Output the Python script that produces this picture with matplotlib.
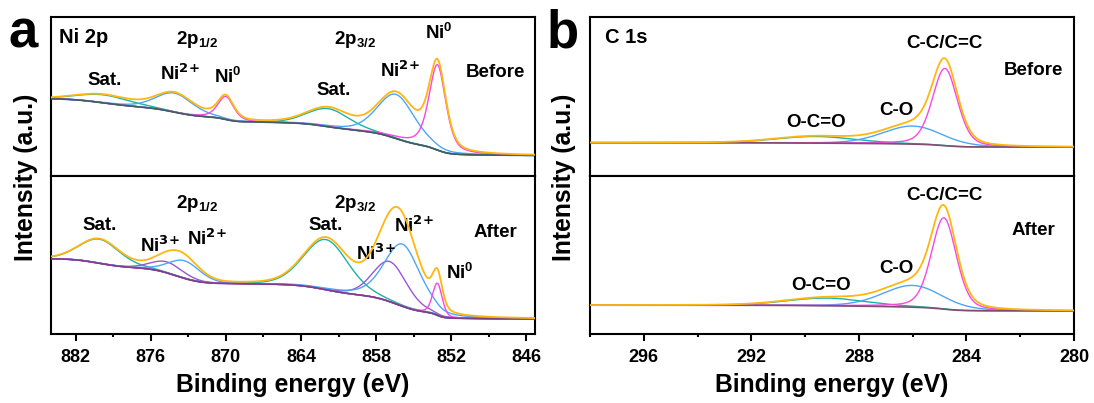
import numpy as np
import matplotlib
matplotlib.use("Agg")
import matplotlib.pyplot as plt
from matplotlib.ticker import MultipleLocator

plt.rcParams["font.family"] = ["Liberation Sans", "DejaVu Sans"]
plt.rcParams["font.weight"] = "bold"
plt.rcParams["mathtext.default"] = "regular"

# ---------------------------------------------------------------------------
# Fitted XPS components: centre (eV), height, FWHM (eV), Lorentz fraction,
# and the share of the Shirley-type background step each peak carries.
# ---------------------------------------------------------------------------
ni_species = ["Sat.", "Ni2+", "Ni0", "Sat.", "Ni2+", "Ni0"]
ni_before_center = [879.7, 874.1, 870.0, 861.8, 856.4, 853.1]
ni_before_height = [8, 19, 23, 18, 44, 85]
ni_before_fwhm = [5.0, 3.5, 1.5, 4.0, 3.5, 1.6]
ni_before_eta = [0.2, 0.3, 0.5, 0.2, 0.3, 0.5]
ni_before_step = [8.5, 10, 5, 8, 16, 9]
ni_before_base = 20

ni_after_species = ["Sat.", "Ni3+", "Ni2+", "Sat.", "Ni3+", "Ni2+", "Ni0"]
ni_after_center = [880.1, 874.7, 873.3, 862.0, 856.9, 855.9, 853.1]
ni_after_height = [24, 11, 17.6, 50, 40, 62, 32]
ni_after_fwhm = [3.8, 3.0, 3.0, 4.2, 3.2, 3.4, 0.9]
ni_after_eta = [0.2, 0.2, 0.2, 0.2, 0.2, 0.35, 0.3]
ni_after_step = [9, 8, 8, 11, 8, 11, 5]
ni_after_base = 15

c_species = ["O-C=O", "C-O", "C-C"]
c_before_center = [289.6, 286.0, 284.8]
c_before_height = [6.6, 18, 77]
c_before_fwhm = [3.5, 2.6, 1.1]
c_before_eta = [0.2, 0.2, 0.3]
c_before_step = [0.7, 1.2, 2.5]
c_before_base = 28.3

c_after_center = [289.2, 286.0, 284.84]
c_after_height = [7.7, 21.7, 91]
c_after_fwhm = [3.5, 2.6, 1.1]
c_after_eta = [0.2, 0.2, 0.3]
c_after_step = [1.0, 1.7, 3.0]
c_after_base = 23

colors = {
    "Sat.": "#17b3a9", "Ni2+": "#4ea5f7", "Ni0": "#f748e6", "Ni3+": "#9b55d6",
    "O-C=O": "#17b3a9", "C-O": "#4ea5f7", "C-C": "#f748e6",
}
env_color = "#ffb70f"


def pseudo_voigt(x, c, h, w, eta):
    u = (x - c) / w
    return h * ((1 - eta) * np.exp(-4 * np.log(2) * u ** 2) + eta / (1 + 4 * u ** 2))


def draw_fit(ax, xlim, species, center, height, fwhm, eta, step, base, bg_color):
    x = np.linspace(min(xlim), max(xlim), 2000)
    peaks = [pseudo_voigt(x, c, h, w, e) for c, h, w, e in zip(center, height, fwhm, eta)]
    bg = np.full_like(x, base, dtype=float)
    for p, s in zip(peaks, step):
        cum = np.cumsum(p)
        bg += s * (cum - cum[0]) / (cum[-1] - cum[0])
    for sp, p in zip(species, peaks):
        ax.plot(x, bg + p, color=colors[sp], lw=1.0, zorder=2)
    ax.plot(x, bg, color=bg_color, lw=1.2, zorder=3)
    ax.plot(x, bg + np.sum(peaks, axis=0), color=env_color, lw=1.3, zorder=4)


fig = plt.figure(figsize=(10.94, 4.03), dpi=100)
y0, h_ax = 0.1712, 0.3933
ax_a1 = fig.add_axes([0.0462, y0 + h_ax, 0.4429, h_ax])
ax_a2 = fig.add_axes([0.0462, y0, 0.4429, h_ax])
ax_b1 = fig.add_axes([0.5393, y0 + h_ax, 0.4424, h_ax])
ax_b2 = fig.add_axes([0.5393, y0, 0.4424, h_ax])

ni_xlim = (884, 845.3)
c_xlim = (298, 280)

draw_fit(ax_a1, ni_xlim, ni_species, ni_before_center, ni_before_height, ni_before_fwhm,
         ni_before_eta, ni_before_step, ni_before_base, "#3f5e5e")
draw_fit(ax_a2, ni_xlim, ni_after_species, ni_after_center, ni_after_height, ni_after_fwhm,
         ni_after_eta, ni_after_step, ni_after_base, "#7d3f86")
draw_fit(ax_b1, c_xlim, c_species, c_before_center, c_before_height, c_before_fwhm,
         c_before_eta, c_before_step, c_before_base, "#7f4f6f")
draw_fit(ax_b2, c_xlim, c_species, c_after_center, c_after_height, c_after_fwhm,
         c_after_eta, c_after_step, c_after_base, "#7f4f6f")

for ax in (ax_a1, ax_a2, ax_b1, ax_b2):
    ax.set_ylim(0, 158)
    ax.set_yticks([])
    for sp in ax.spines.values():
        sp.set_linewidth(1.5)
for ax in (ax_a1, ax_a2):
    ax.set_xlim(*ni_xlim)
    ax.xaxis.set_major_locator(MultipleLocator(6))
    ax.xaxis.set_minor_locator(MultipleLocator(3))
for ax in (ax_b1, ax_b2):
    ax.set_xlim(*c_xlim)
    ax.xaxis.set_major_locator(MultipleLocator(4))
    ax.xaxis.set_minor_locator(MultipleLocator(2))
for ax in (ax_a1, ax_b1):
    ax.tick_params(axis="x", which="both", bottom=False, labelbottom=False)
for ax in (ax_a2, ax_b2):
    ax.tick_params(axis="x", which="major", direction="out", length=5, width=1.5,
                   labelsize=13, pad=6)
    ax.tick_params(axis="x", which="minor", direction="out", length=2.5, width=1.5)
    for lab in ax.get_xticklabels():
        lab.set_fontweight("bold")
    ax.set_xlabel("Binding energy (eV)", fontsize=17.8, fontweight="bold", labelpad=5)

fs = 13.5
kw = dict(fontsize=fs, fontweight="bold", ha="center", va="center")
kw_left = {**kw, "ha": "left", "fontsize": 14.5}
NI2 = r"Ni$^{\text{2+}}$"
NI3 = r"Ni$^{\text{3+}}$"
NI0 = r"Ni$^{0}$"

# Ni 2p, before
ax_a1.text(883.3, 138, "Ni 2p", **kw_left)
ax_a1.text(872.3, 136, "2p$_{1/2}$", **kw)
ax_a1.text(859.7, 136, "2p$_{3/2}$", **kw)
ax_a1.text(853.0, 142, NI0, **kw)
ax_a1.text(848.5, 103, "Before", **kw)
ax_a1.text(856.1, 105, NI2, **kw)
ax_a1.text(861.4, 85, "Sat.", **kw)
ax_a1.text(869.8, 98, NI0, **kw)
ax_a1.text(873.7, 102, NI2, **kw)
ax_a1.text(879.7, 95, "Sat.", **kw)

# Ni 2p, after
ax_a2.text(872.3, 130, "2p$_{1/2}$", **kw)
ax_a2.text(859.7, 130, "2p$_{3/2}$", **kw)
ax_a2.text(880.1, 108, "Sat.", **kw)
ax_a2.text(875.3, 88, NI3, **kw)
ax_a2.text(871.5, 95, NI2, **kw)
ax_a2.text(862.0, 108, "Sat.", **kw)
ax_a2.text(858.0, 80, NI3, **kw)
ax_a2.text(855.0, 108, NI2, **kw)
ax_a2.text(851.3, 61, NI0, **kw)
ax_a2.text(848.5, 101, "After", **kw)

# C 1s, before
ax_b1.text(297.45, 138, "C 1s", **kw_left)
ax_b1.text(284.8, 132, "C-C/C=C", **kw)
ax_b1.text(281.5, 105, "Before", **kw)
ax_b1.text(286.6, 65, "C-O", **kw)
ax_b1.text(289.6, 53, "O-C=O", **kw)

# C 1s, after
ax_b2.text(284.8, 138, "C-C/C=C", **kw)
ax_b2.text(281.5, 103, "After", **kw)
ax_b2.text(286.6, 65, "C-O", **kw)
ax_b2.text(289.4, 48, "O-C=O", **kw)

# shared y labels and panel letters
for xc in (0.0238, 0.5155):
    fig.text(xc, 0.5608, "Intensity (a.u.)", rotation=90, fontsize=17.8,
             fontweight="bold", ha="center", va="center")
fig.text(0.0215, 0.882, "a", fontsize=38, fontweight="bold", ha="center", va="baseline")
fig.text(0.5146, 0.882, "b", fontsize=38, fontweight="bold", ha="center", va="baseline")

fig.savefig("out.png", dpi=100)
